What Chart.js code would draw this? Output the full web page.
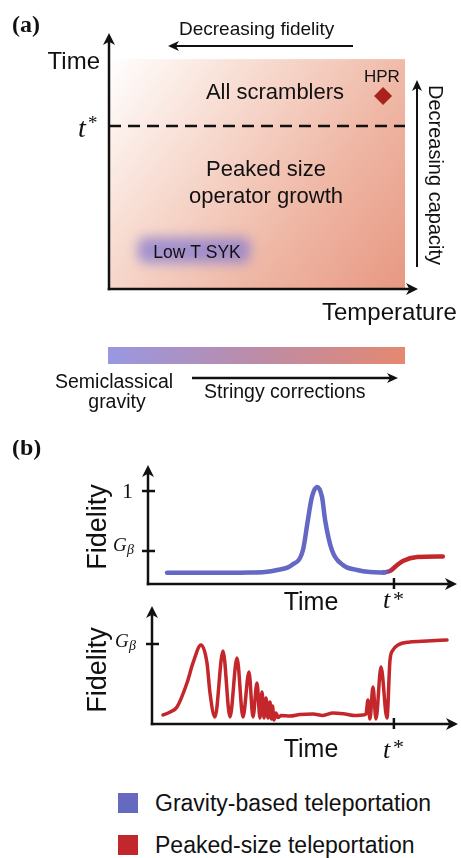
<!DOCTYPE html>
<html>
<head>
<meta charset="utf-8">
<script src="https://cdn.jsdelivr.net/npm/chart.js@4.4.1/dist/chart.umd.min.js"></script>
<style>
  html, body { margin: 0; padding: 0; background: #fff; }
  body { position: relative; width: 461px; height: 858px; overflow: hidden; font-family: "Liberation Sans", Arial, sans-serif; }
  canvas { position: absolute; left: 0; }
  .key { position: absolute; left: 118px; width: 20px; height: 20px; }
  .keytxt { position: absolute; left: 155px; font-size: 23px; line-height: 23px; color: #111; white-space: nowrap; }
</style>
</head>
<body>
<canvas id="phase" width="461" height="425" style="top:0px"></canvas>
<canvas id="fidTop" width="461" height="185" style="top:440px"></canvas>
<canvas id="fidBottom" width="461" height="180" style="top:590px"></canvas>
<div id="legend"></div>
<script>
// panel (a): phase diagram, temperature / time in axis units (0..1)
const regionTemp = [0, 0.958];
const regionTime = [0, 0.898];
const tStarLevel = 0.637;
const hprPoint = [0.887, 0.754];
const sykTemp = [0.08, 0.47];
const sykTime = [0.085, 0.218];

// panel (b), top: fidelity vs time
const tStar = 8;
const gravityTime = [0.62, 1.69, 3.32, 3.80, 4.20, 4.68, 5.04, 5.20, 5.33, 5.50, 5.66, 5.76, 5.98, 6.34, 6.80, 7.22, 7.71];
const gravityFid  = [0.12, 0.12, 0.124, 0.129, 0.151, 0.204, 0.366, 0.688, 0.935, 1.043, 0.935, 0.688, 0.366, 0.204, 0.151, 0.129, 0.124];
const peakedTopTime = [7.64, 7.87, 8.07, 8.29, 8.75, 9.59];
const peakedTopFid  = [0.124, 0.14, 0.194, 0.247, 0.29, 0.296];
const topTickValues = [1, 0.355];   // 1 and G_beta

// panel (b), bottom: peaked-size teleportation only
const peakedTime = [0.364, 0.600, 0.827, 1.157, 1.356, 1.620, 1.819, 1.918, 2.083, 2.348, 2.579, 2.811, 3.009, 3.208, 3.340,
  3.472, 3.572, 3.638, 3.704, 3.770, 3.836, 3.902, 3.952, 3.985, 4.034, 4.101, 4.167, 4.266, 4.564, 4.894, 5.324,
  5.655, 5.986, 6.383, 6.713, 6.978, 7.077, 7.143, 7.209, 7.308, 7.408, 7.573, 7.771, 7.871, 7.970, 8.135, 8.532,
  9.094, 9.756];
const peakedFid = [0.113, 0.150, 0.213, 0.513, 0.763, 0.988, 0.763, 0.388, 0.088, 0.913, 0.088, 0.825, 0.088, 0.65, 0.088,
  0.513, 0.075, 0.4, 0.075, 0.325, 0.075, 0.275, 0.063, 0.225, 0.05, 0.138, 0.081, 0.106, 0.1, 0.119, 0.125,
  0.106, 0.138, 0.125, 0.106, 0.113, 0.125, 0.3, 0.063, 0.463, 0.063, 0.713, 0.075, 0.8, 0.925, 0.988, 1.025,
  1.038, 1.05];
const bottomTickValues = [1];       // G_beta

const seriesNames = ['Gravity-based teleportation', 'Peaked-size teleportation'];

const SANS = '"Liberation Sans", Arial, Helvetica, sans-serif';
const SERIF = '"Liberation Serif", "Times New Roman", serif';
const BLUE = '#6467c4', RED = '#c3262b', INK = '#111';

function label(ctx, s, x, y, size, opts = {}) {
  ctx.font = (opts.style || '') + ' ' + size + 'px ' + (opts.family || SANS);
  ctx.fillStyle = opts.color || INK;
  ctx.textAlign = opts.align || 'left';
  ctx.textBaseline = 'alphabetic';
  ctx.fillText(s, x, y);
}

function rotLabel(ctx, s, x, y, size, angle) {
  ctx.save();
  ctx.translate(x, y);
  ctx.rotate(angle);
  label(ctx, s, 0, 0, size, { align: 'center' });
  ctx.restore();
}

function arrow(ctx, x0, y0, x1, y1, lw = 2.5, head = 12, hw = 6) {
  const a = Math.atan2(y1 - y0, x1 - x0);
  ctx.save();
  ctx.strokeStyle = INK;
  ctx.fillStyle = INK;
  ctx.lineWidth = lw;
  ctx.beginPath();
  ctx.moveTo(x0, y0);
  ctx.lineTo(x1 - Math.cos(a) * head * 0.7, y1 - Math.sin(a) * head * 0.7);
  ctx.stroke();
  ctx.translate(x1, y1);
  ctx.rotate(a);
  ctx.beginPath();
  ctx.moveTo(0, 0);
  ctx.lineTo(-head, -hw);
  ctx.lineTo(-head * 0.72, 0);
  ctx.lineTo(-head, hw);
  ctx.closePath();
  ctx.fill();
  ctx.restore();
}

function line(ctx, x0, y0, x1, y1, lw = 2.5) {
  ctx.save();
  ctx.strokeStyle = INK;
  ctx.lineWidth = lw;
  ctx.beginPath();
  ctx.moveTo(x0, y0);
  ctx.lineTo(x1, y1);
  ctx.stroke();
  ctx.restore();
}

function points(xs, ys) {
  return xs.map((x, i) => ({ x: x, y: ys[i] }));
}

// ---------- panel (a) ----------
const phasePlugin = {
  id: 'phasePlugin',
  beforeDatasetsDraw(chart) {
    const { ctx } = chart;
    const x = chart.scales.x, y = chart.scales.y;
    const x0 = x.getPixelForValue(regionTemp[0]), x1 = x.getPixelForValue(regionTemp[1]);
    const y0 = y.getPixelForValue(regionTime[1]), y1 = y.getPixelForValue(regionTime[0]);
    const g = ctx.createLinearGradient(x0, y0, x1, y1);
    g.addColorStop(0, '#ffffff');
    g.addColorStop(0.3, 'rgb(248,222,212)');
    g.addColorStop(0.65, 'rgb(239,184,166)');
    g.addColorStop(1, 'rgb(231,152,130)');
    ctx.save();
    ctx.fillStyle = g;
    ctx.fillRect(x0, y0, x1 - x0, y1 - y0);

    // Low T SYK blob
    const bx0 = x.getPixelForValue(sykTemp[0]), bx1 = x.getPixelForValue(sykTemp[1]);
    const by0 = y.getPixelForValue(sykTime[1]), by1 = y.getPixelForValue(sykTime[0]);
    ctx.filter = 'blur(6px)';
    ctx.fillStyle = 'rgba(128,118,208,0.7)';
    ctx.beginPath();
    ctx.roundRect(bx0 + 4, by0 + 4, bx1 - bx0 - 8, by1 - by0 - 8, 8);
    ctx.fill();
    ctx.restore();
  },
  afterDraw(chart) {
    const { ctx, chartArea: ca } = chart;
    const x = chart.scales.x;
    // axes
    arrow(ctx, ca.left, ca.bottom + 1.25, ca.left, ca.top);
    arrow(ctx, ca.left - 1.25, ca.bottom, ca.right, ca.bottom);

    label(ctx, '(a)', 12, 32, 24, { style: 'bold', family: SERIF });
    label(ctx, 'Time', 100, 69, 24, { align: 'right' });
    label(ctx, 't', 78, 137, 28, { style: 'italic', family: SERIF });
    label(ctx, '*', 88, 129, 19, { family: SERIF });
    label(ctx, 'Temperature', 322, 320, 24);

    label(ctx, 'Decreasing fidelity', 179, 35, 19);
    arrow(ctx, 353, 46, 168, 46, 2, 11, 5);

    label(ctx, 'All scramblers', 275, 99, 22, { align: 'center' });
    label(ctx, 'HPR', 364, 82, 17);
    label(ctx, 'Peaked size', 266, 176, 22, { align: 'center' });
    label(ctx, 'operator growth', 266, 203, 22, { align: 'center' });
    label(ctx, 'Low T SYK', 197, 258, 17.5, { align: 'center' });

    arrow(ctx, 417, 267, 417, 80, 2, 11, 5);
    rotLabel(ctx, 'Decreasing capacity', 429, 175, 20, Math.PI / 2);

    // colour bar: semiclassical gravity -> stringy corrections
    const cx0 = x.getPixelForValue(regionTemp[0]) - 1, cx1 = x.getPixelForValue(regionTemp[1]);
    const cb = ctx.createLinearGradient(cx0, 0, cx1, 0);
    cb.addColorStop(0, 'rgb(152,152,226)');
    cb.addColorStop(0.5, 'rgb(188,140,168)');
    cb.addColorStop(1, 'rgb(229,136,112)');
    ctx.fillStyle = cb;
    ctx.fillRect(cx0, 347, cx1 - cx0, 17);

    label(ctx, 'Semiclassical', 55, 388, 19.5);
    label(ctx, 'gravity', 117, 408, 19.5, { align: 'center' });
    arrow(ctx, 192, 378, 398, 378, 2.5, 11, 5);
    label(ctx, 'Stringy corrections', 204, 398, 19.5);
  }
};

new Chart(document.getElementById('phase'), {
  type: 'line',
  data: {
    datasets: [
      {
        data: [{ x: regionTemp[0], y: tStarLevel }, { x: regionTemp[1], y: tStarLevel }],
        borderColor: INK,
        borderWidth: 2.5,
        borderDash: [12, 7],
        pointRadius: 0
      },
      {
        data: [{ x: hprPoint[0], y: hprPoint[1] }],
        showLine: false,
        pointStyle: 'rectRot',
        pointRadius: 9,
        pointBackgroundColor: '#a8231c',
        pointBorderWidth: 0
      }
    ]
  },
  options: {
    animation: false,
    responsive: false,
    layout: { padding: { left: 109, right: 43, top: 33, bottom: 136 } },
    plugins: { legend: { display: false }, tooltip: { enabled: false } },
    scales: {
      x: { type: 'linear', min: 0, max: 1, display: false },
      y: { type: 'linear', min: 0, max: 1, display: false }
    }
  },
  plugins: [phasePlugin]
});

// ---------- panel (b) ----------
function fidelityPlugin(top, ticks, decorate) {
  return {
    id: 'fid' + top,
    afterDraw(chart) {
      const { ctx, chartArea: ca } = chart;
      const x = chart.scales.x, y = chart.scales.y;
      arrow(ctx, ca.left, ca.bottom + 1.25, ca.left, ca.top);
      arrow(ctx, ca.left - 1.25, ca.bottom, ca.right, ca.bottom);
      ticks.forEach(v => {
        const py = y.getPixelForValue(v);
        line(ctx, ca.left - 6, py, ca.left + 7, py);
      });
      const px = x.getPixelForValue(tStar);
      line(ctx, px, ca.bottom - 6, px, ca.bottom + 5);
      ctx.save();
      ctx.translate(0, -top);   // labels placed in page coordinates
      decorate(ctx, px);
      ctx.restore();
    }
  };
}

function fidelityChart(id, datasets, xMax, yMax, padding, plugin) {
  return new Chart(document.getElementById(id), {
    type: 'line',
    data: { datasets: datasets },
    options: {
      animation: false,
      responsive: false,
      layout: { padding: padding },
      plugins: { legend: { display: false }, tooltip: { enabled: false } },
      elements: { point: { radius: 0 }, line: { cubicInterpolationMode: 'monotone', borderCapStyle: 'round', borderJoinStyle: 'round' } },
      scales: {
        x: { type: 'linear', min: 0, max: xMax, display: false },
        y: { type: 'linear', min: 0, max: yMax, display: false }
      }
    },
    plugins: [plugin]
  });
}

fidelityChart('fidTop', [
  { label: seriesNames[0], data: points(gravityTime, gravityFid), borderColor: BLUE, borderWidth: 4.5, clip: false },
  {
    label: seriesNames[1], data: points(peakedTopTime, peakedTopFid), borderWidth: 4.5, clip: false,
    borderColor: (c) => {
      const ch = c.chart;
      if (!ch.chartArea) return RED;
      const xs = ch.scales.x;
      const g = ch.ctx.createLinearGradient(xs.getPixelForValue(7.62), 0, xs.getPixelForValue(7.98), 0);
      g.addColorStop(0, BLUE);
      g.addColorStop(1, RED);
      return g;
    }
  }
], 10.05, 1.28, { left: 148, right: 4, top: 25, bottom: 41 },
fidelityPlugin(440, topTickValues, (ctx, px) => {
  label(ctx, '(b)', 12, 455, 24, { style: 'bold', family: SERIF });
  label(ctx, '1', 133, 498, 22, { align: 'right', family: SERIF });
  label(ctx, 'G', 113, 551, 19, { style: 'italic', family: SERIF });
  label(ctx, 'β', 127, 554, 14, { style: 'italic', family: SERIF });
  label(ctx, 'Time', 311, 610, 25, { align: 'center' });
  label(ctx, 't', 383, 608, 26, { style: 'italic', family: SERIF });
  label(ctx, '*', 393, 606, 22, { family: SERIF });
  rotLabel(ctx, 'Fidelity', 106, 527, 27, -Math.PI / 2);
}));

fidelityChart('fidBottom', [
  { label: seriesNames[1], data: points(peakedTime, peakedFid), borderColor: RED, borderWidth: 3.5, clip: false }
], 10.12, 1.475, { left: 152, right: 3, top: 16, bottom: 46 },
fidelityPlugin(590, bottomTickValues, (ctx, px) => {
  label(ctx, 'G', 115, 647, 19, { style: 'italic', family: SERIF });
  label(ctx, 'β', 129, 650, 14, { style: 'italic', family: SERIF });
  label(ctx, 'Time', 311, 757, 25, { align: 'center' });
  label(ctx, 't', 383, 758, 26, { style: 'italic', family: SERIF });
  label(ctx, '*', 393, 754, 22, { family: SERIF });
  rotLabel(ctx, 'Fidelity', 106, 670, 27, -Math.PI / 2);
}));

// legend
const legend = document.getElementById('legend');
[['#6569c0', 793], ['#c1272d', 835]].forEach(([col, top], i) => {
  const sq = document.createElement('div');
  sq.className = 'key';
  sq.style.top = top + 'px';
  sq.style.background = col;
  legend.appendChild(sq);
  const tx = document.createElement('div');
  tx.className = 'keytxt';
  tx.style.top = (top - 1) + 'px';
  tx.textContent = seriesNames[i];
  legend.appendChild(tx);
});
</script>
</body>
</html>
